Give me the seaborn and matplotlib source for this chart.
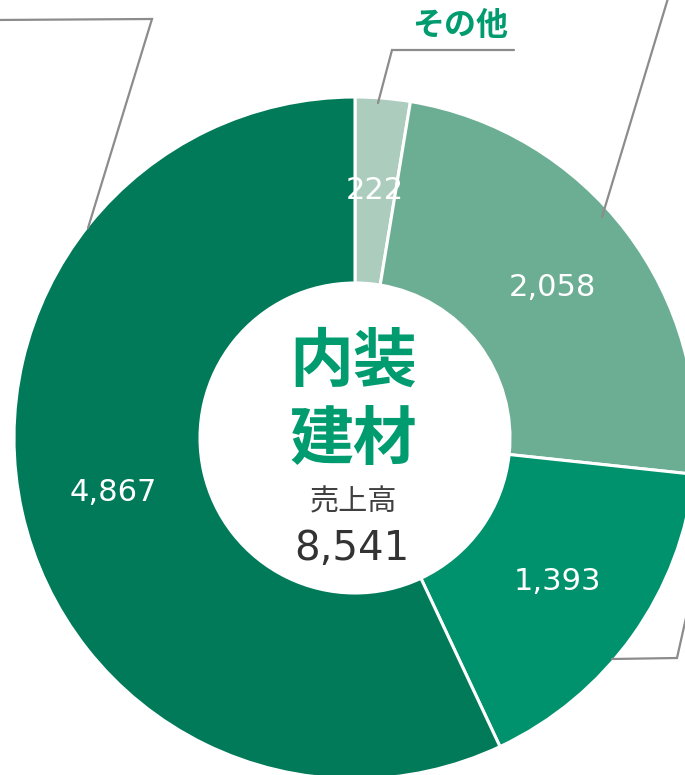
import matplotlib
matplotlib.use('Agg')
import matplotlib.pyplot as plt
import seaborn as sns

# segment data (clockwise from 12 o'clock)
segment_names = ['その他', 'seg2', 'seg3', 'seg4']
sales = [222, 2058, 1393, 4867]
seg_colors = ['#ACCDBE', '#6CAE94', '#00926C', '#007A58']
title_lines = ['内装', '建材']
total_label = '売上高'
total_value = 8541

W, H = 685, 775  # figure in pixels


def py(y):
    # pixel row (top down) -> data y (bottom up)
    return H - y


sns.set_theme(style='white')
plt.rcParams['font.family'] = ['DejaVu Sans', 'Noto Sans CJK JP']
jp = ['Noto Sans CJK JP', 'DejaVu Sans']

fig = plt.figure(figsize=(W / 100, H / 100), dpi=100)
ax = fig.add_axes([0, 0, 1, 1])

r_out, r_in = 341, 155
cx, cy = 355, py(438)
wedges, _, autotexts = ax.pie(
    sales, colors=sns.color_palette(seg_colors), startangle=90, counterclock=False,
    radius=r_out, center=(cx, cy), autopct='%1.0f',
    pctdistance=(r_out + r_in) / 2 / r_out,
    wedgeprops=dict(width=r_out - r_in, edgecolor='white', linewidth=2.2),
    textprops=dict(color='white', fontsize=22))
for t, v in zip(autotexts, sales):
    t.set_text('{:,}'.format(v))

# leader lines (labels of the other segments sit outside the crop)
leaders = [
    [(378, 103), (392, 50), (514, 50)],
    [(88, 228), (152, 19), (-5, 20)],
    [(602, 217), (669, -5)],
    [(612, 659), (677, 658), (690, 600)],
]
for pts in leaders:
    ax.plot([p[0] for p in pts], [py(p[1]) for p in pts], color='#8C8C8C', lw=1.6,
            solid_joinstyle='miter', zorder=1)
ax.text(460, py(26), segment_names[0], color='#009B6E', fontsize=23, fontweight='bold',
        ha='center', va='center', family=jp)

# center text
ax.text(cx - 2, py(362), title_lines[0], color='#009B6E', fontsize=46, fontweight='bold',
        ha='center', va='center', family=jp)
ax.text(cx - 2, py(440), title_lines[1], color='#009B6E', fontsize=46, fontweight='bold',
        ha='center', va='center', family=jp)
ax.text(cx - 2, py(502), total_label, color='#404040', fontsize=21, ha='center', va='center',
        family=jp)
ax.text(cx - 3, py(560), '{:,}'.format(total_value), color='#333333', fontsize=29,
        ha='center', va='baseline')

ax.set_xlim(0, W)
ax.set_ylim(0, H)
ax.set_aspect('equal')
ax.axis('off')

fig.savefig('out.png', dpi=100, facecolor='white')
